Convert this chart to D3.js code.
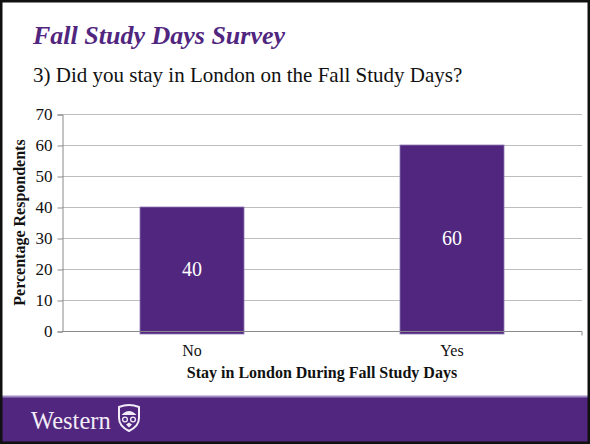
<!DOCTYPE html>
<html>
<head>
<meta charset="utf-8">
<script src="https://cdn.jsdelivr.net/npm/d3@7"></script>
<style>
  body { margin: 0; background: #fff; }
  svg text { font-family: 'Liberation Serif', 'Times New Roman', serif; }
</style>
</head>
<body>
<div id="chart"></div>
<script>
const categories = ['No', 'Yes'];
const percentages = [40, 60];
const yTicks = [0, 10, 20, 30, 40, 50, 60, 70];

const width = 590;
const height = 444;
const purple = '#51267f';
const serif = "'Liberation Serif', 'Times New Roman', serif";
const plot = { left: 62, right: 582, top: 114, bottom: 331 };

const svg = d3.select('#chart')
  .append('svg')
  .attr('width', width)
  .attr('height', height);

svg.append('rect')
  .attr('x', 0).attr('y', 0)
  .attr('width', width).attr('height', height)
  .attr('fill', '#fff');

// footer band
svg.append('rect')
  .attr('x', 0).attr('y', 397)
  .attr('width', width).attr('height', 47)
  .attr('fill', purple);
svg.append('rect')
  .attr('x', 0).attr('y', 395.5)
  .attr('width', width).attr('height', 2)
  .attr('fill', '#a08cc4');

svg.append('text')
  .attr('x', 31).attr('y', 429)
  .style('font-family', serif)
  .style('font-size', '24.5px')
  .style('fill', '#f1ecf7')
  .text('Western');

// crest
const crest = svg.append('g').attr('transform', 'translate(118, 405)');
crest.append('path')
  .attr('d', 'M1,2 Q11,-2 21,2 L21,13 Q21,21 11,26 Q1,21 1,13 Z')
  .attr('fill', 'none')
  .attr('stroke', '#f1ecf7')
  .attr('stroke-width', 2);
crest.append('path')
  .attr('d', 'M3.5,10 Q11,2 18.5,10 Z')
  .attr('fill', '#f1ecf7');
crest.append('circle').attr('cx', 7).attr('cy', 14.5).attr('r', 2.4).attr('fill', 'none').attr('stroke', '#f1ecf7').attr('stroke-width', 1.3);
crest.append('circle').attr('cx', 15).attr('cy', 14.5).attr('r', 2.4).attr('fill', 'none').attr('stroke', '#f1ecf7').attr('stroke-width', 1.3);
crest.append('path')
  .attr('d', 'M8,19.5 L11,22.5 L14,19.5 L11,17.5 Z')
  .attr('fill', '#f1ecf7');

svg.append('rect')
  .attr('x', 1).attr('y', 1)
  .attr('width', width - 2).attr('height', height - 2)
  .attr('fill', 'none')
  .attr('stroke', '#111')
  .attr('stroke-width', 3);

// titles
svg.append('text')
  .attr('x', 33).attr('y', 44)
  .style('font-family', serif)
  .style('font-size', '26px')
  .style('font-weight', 'bold')
  .style('font-style', 'italic')
  .style('fill', purple)
  .text('Fall Study Days Survey');

svg.append('text')
  .attr('x', 33).attr('y', 82)
  .style('font-family', serif)
  .style('font-size', '21px')
  .style('fill', '#111')
  .text('3) Did you stay in London on the Fall Study Days?');

const x = d3.scaleBand()
  .domain(categories)
  .range([plot.left, plot.right])
  .paddingInner(0.6)
  .paddingOuter(0.3);

const y = d3.scaleLinear()
  .domain([0, 70])
  .range([plot.bottom, plot.top]);

// gridlines
svg.append('g')
  .selectAll('line')
  .data(yTicks.filter(d => d > 0))
  .enter()
  .append('line')
  .attr('x1', plot.left)
  .attr('x2', plot.right)
  .attr('y1', d => y(d) + 0.5)
  .attr('y2', d => y(d) + 0.5)
  .attr('stroke', '#bdbdbd')
  .attr('stroke-width', 1);

// y axis
const yAxis = svg.append('g')
  .attr('transform', `translate(${plot.left + 0.5}, 0.5)`)
  .call(d3.axisLeft(y).tickValues(yTicks).tickSize(5).tickPadding(5));
yAxis.attr('font-family', null);
yAxis.select('.domain').attr('stroke', '#8a8a8a');
yAxis.selectAll('line').attr('stroke', '#8a8a8a');
yAxis.selectAll('text')
  .style('font-size', '17px')
  .style('font-family', serif)
  .style('fill', '#111');

// bars
svg.selectAll('rect.bar')
  .data(categories)
  .enter()
  .append('rect')
  .attr('class', 'bar')
  .attr('x', d => x(d))
  .attr('width', x.bandwidth())
  .attr('y', (d, i) => y(percentages[i]))
  .attr('height', (d, i) => y(0) - y(percentages[i]) + 3)
  .attr('fill', purple)
  .attr('stroke', '#8e78b4')
  .attr('stroke-width', 0.8);

// x axis
const xAxis = svg.append('g')
  .attr('transform', `translate(0, ${plot.bottom + 0.5})`)
  .call(d3.axisBottom(x).tickSize(0).tickPadding(13));
xAxis.attr('font-family', null);
xAxis.select('.domain').attr('stroke', '#8a8a8a').attr('d', `M${plot.left},0H${plot.right}V4`);
xAxis.selectAll('text')
  .style('font-size', '16px')
  .style('font-family', serif)
  .style('fill', '#111');

// value labels
svg.selectAll('text.label')
  .data(percentages)
  .enter()
  .append('text')
  .attr('class', 'label')
  .attr('x', (d, i) => x(categories[i]) + x.bandwidth() / 2)
  .attr('y', d => y(d / 2) + 7)
  .attr('text-anchor', 'middle')
  .style('font-family', serif)
  .style('font-size', '20px')
  .style('fill', '#fff')
  .text(d => d);

// axis titles
svg.append('text')
  .attr('x', (plot.left + plot.right) / 2)
  .attr('y', 378)
  .attr('text-anchor', 'middle')
  .style('font-family', serif)
  .style('font-size', '16px')
  .style('font-weight', 'bold')
  .style('fill', '#111')
  .text('Stay in London During Fall Study Days');

svg.append('text')
  .attr('transform', `translate(25, ${(plot.top + plot.bottom) / 2}) rotate(-90)`)
  .attr('text-anchor', 'middle')
  .style('font-family', serif)
  .style('font-size', '16px')
  .style('font-weight', 'bold')
  .style('fill', '#111')
  .text('Percentage Respondents');
</script>
</body>
</html>
